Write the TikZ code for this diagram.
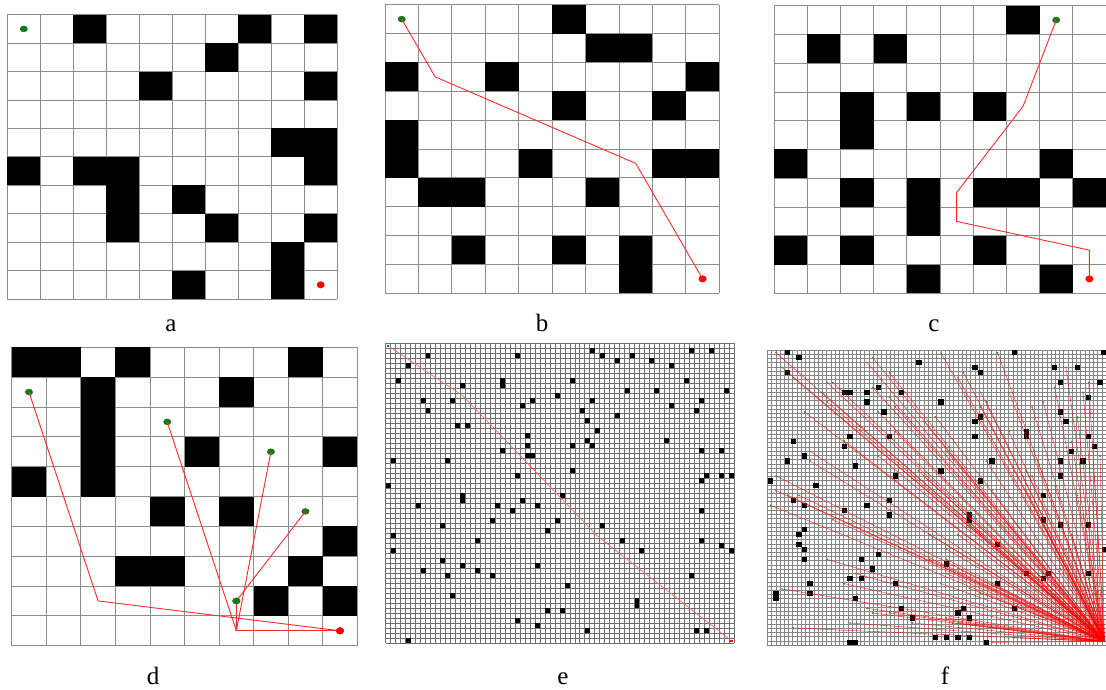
\documentclass[tikz,border=0pt]{standalone}
\usepackage{fontspec}
\setmainfont{Liberation Serif}
\usetikzlibrary{shapes.geometric}
\definecolor{gridgray}{HTML}{8C8C8C}
\definecolor{finegray}{HTML}{6E6E6E}
\definecolor{fgray}{HTML}{858585}
\definecolor{startgreen}{HTML}{127A12}
\definecolor{goalred}{HTML}{FF0000}
\definecolor{pathred}{HTML}{FF2A2A}
\tikzset{
  gridln/.style={draw=gridgray, line width=0.8pt},
  fineln/.style={draw=finegray, line width=0.55pt},
  fln/.style={draw=fgray, line width=0.5pt},
  obst/.style={fill=black},
  pathln/.style={draw=pathred, line width=0.9pt},
  epath/.style={draw=pathred!70, line width=0.7pt},
  fpath/.style={draw=red, line width=0.55pt, draw opacity=0.7},
  startdot/.style={ellipse, fill=startgreen, inner sep=0pt, minimum width=8pt, minimum height=6.5pt},
  goaldot/.style={ellipse, fill=goalred, inner sep=0pt, minimum width=8pt, minimum height=7pt},
  tinystart/.style={rectangle, fill=startgreen, inner sep=0pt, minimum size=2.2pt},
  tinygoal/.style={rectangle, fill=goalred, inner sep=0pt, minimum size=2.2pt},
  fdot/.style={circle, fill=startgreen!80!lime, inner sep=0pt, minimum size=2pt},
  lbl/.style={anchor=base, inner sep=0pt, font=\fontsize{25}{25}\selectfont}
}
\begin{document}
\begin{tikzpicture}[x=1pt, y=-1pt]
\useasboundingbox[fill=white] (0,0) rectangle (1106,690);

% ---------------- panel a ----------------
\begin{scope}[shift={(7.3,14.7)}, x=32.99pt, y=-28.43pt]
  \foreach \i in {0,...,10} {
    \draw[gridln] (\i,0) -- (\i,10);
    \draw[gridln] (0,\i) -- (10,\i);
  }
  \foreach \c/\r in {2/0,7/0,9/0,6/1,4/2,9/2,8/4,9/4,0/5,2/5,3/5,9/5,3/6,5/6,3/7,6/7,9/7,8/8,5/9,8/9}
    \fill[obst] (\c,\r) rectangle ++(1,1);
  \node[startdot] (as) at (0.5,0.5) {};
  \node[goaldot] (ag) at (9.5,9.5) {};
\end{scope}
\node[lbl] (la) at (171,331) {a};

% ---------------- panel b ----------------
\begin{scope}[shift={(385,4.7)}, x=33.43pt, y=-28.86pt]
  \foreach \i in {0,...,10} {
    \draw[gridln] (\i,0) -- (\i,10);
    \draw[gridln] (0,\i) -- (10,\i);
  }
  \foreach \c/\r in {5/0,6/1,7/1,0/2,3/2,9/2,5/3,8/3,0/4,0/5,4/5,8/5,9/5,1/6,2/6,6/6,2/8,5/8,7/8,7/9}
    \fill[obst] (\c,\r) rectangle ++(1,1);
  \coordinate (b1) at (1.5,2.5);
  \coordinate (b2) at (7.5,5.5);
  \node[startdot] (bs) at (0.5,0.5) {};
  \node[goaldot] (bg) at (9.5,9.5) {};
  \draw[pathln] (bs.center) -- (b1) -- (b2) -- (bg.center);
\end{scope}
\node[lbl] (lb) at (542,331) {b};

% ---------------- panel c ----------------
\begin{scope}[shift={(774,5.7)}, x=33.2pt, y=-28.76pt]
  \foreach \i in {0,...,10} {
    \draw[gridln] (\i,0) -- (\i,10);
    \draw[gridln] (0,\i) -- (10,\i);
  }
  \foreach \c/\r in {7/0,1/1,3/1,2/3,4/3,6/3,2/4,0/5,8/5,2/6,4/6,6/6,7/6,9/6,4/7,0/8,2/8,6/8,4/9,8/9}
    \fill[obst] (\c,\r) rectangle ++(1,1);
  \coordinate (c1) at (7.5,3.5);
  \coordinate (c2) at (5.5,6.5);
  \coordinate (c3) at (5.5,7.5);
  \coordinate (c4) at (9.5,8.5);
  \node[startdot] (cs) at (8.5,0.5) {};
  \node[goaldot] (cg) at (9.5,9.5) {};
  \draw[pathln] (cs.center) -- (c1) -- (c2) -- (c3) -- (c4) -- (cg.center);
\end{scope}
\node[lbl] (lc) at (934,331) {c};

% ---------------- panel d ----------------
\begin{scope}[shift={(11.7,347.3)}, x=34.56pt, y=-29.84pt]
  \foreach \i in {0,...,10} {
    \draw[gridln] (\i,0) -- (\i,10);
    \draw[gridln] (0,\i) -- (10,\i);
  }
  \foreach \c/\r in {0/0,1/0,3/0,8/0,2/1,6/1,2/2,2/3,5/3,9/3,0/4,2/4,4/5,6/5,9/6,3/7,4/7,8/7,7/8,9/8}
    \fill[obst] (\c,\r) rectangle ++(1,1);
  \coordinate (dj) at (6.5,9.5);
  \coordinate (dk) at (2.5,8.5);
  \node[startdot] (d1) at (0.5,1.5) {};
  \node[startdot] (d2) at (4.5,2.5) {};
  \node[startdot] (d3) at (7.5,3.5) {};
  \node[startdot] (d4) at (8.5,5.5) {};
  \node[startdot] (d5) at (6.5,8.5) {};
  \node[goaldot] (dg) at (9.5,9.5) {};
  \draw[pathln] (d1.center) -- (dk) -- (dg.center);
  \draw[pathln] (d2.center) -- (dj);
  \draw[pathln] (d3.center) -- (dj);
  \draw[pathln] (d4.center) -- (d5.center) -- (dj);
  \draw[pathln] (dj) -- (dg.center);
  \node[startdot] at (d5) {};
  \node[goaldot] at (dg) {};
\end{scope}
\node[lbl] (ld) at (153,684) {d};

% ---------------- panel e ----------------
\begin{scope}[shift={(385.7,343.3)}, x=4.976pt, y=-5pt]
  \fill[white] (0,0) rectangle (70,60);
  \foreach \i in {0,...,70} \draw[fineln] (\i,0) -- (\i,60);
  \foreach \i in {0,...,60} \draw[fineln] (0,\i) -- (70,\i);
  \foreach \c/\r in {8/2,26/2,41/1,61/1,65/1,43/2,49/2,46/3,53/3,4/4,57/4,2/7,15/8,23/7,23/8,37/7,60/7,48/9,54/9,68/9,34/10,7/11,13/11,29/11,41/11,63/11,27/12,57/12,8/13,39/13,62/13,46/14,40/15,14/16,16/16,42/17,28/18,40/19,41/20,28/20,37/20,56/19,23/21,28/22,29/22,63/21,67/21,1/23,12/23,37/25,26/26,64/26,67/26,69/26,63/27,0/28,35/30,15/30,15/31,27/31,6/32,22/32,30/32,25/33,63/33,21/35,34/35,11/36,43/36,32/37,1/38,18/39,47/39,63/39,67/40,1/41,51/41,69/41,11/43,15/44,30/44,7/45,18/45,12/46,21/46,61/46,36/48,13/50,50/51,50/52,32/53,35/53,26/55,30/56,40/57,62/57,64/57,4/59}
    \fill[obst] (\c,\r) rectangle ++(1,1);
  \coordinate (e1) at (15.5,10.5);
  \coordinate (e2) at (42.5,38.5);
  \node[tinystart] (es) at (0.5,0.5) {};
  \node[tinygoal] (eg) at (69.5,59.5) {};
  \draw[epath] (es) -- (e1) -- (e2) -- (eg);
\end{scope}
\node[lbl] (le) at (563,684) {e};

% ---------------- panel f ----------------
\begin{scope}[shift={(767.3,350)}, x=4.234pt, y=-4.214pt]
  \fill[white] (0,0) rectangle (80,70);
  \foreach \i in {0,...,80} \draw[fln] (\i,0) -- (\i,70);
  \foreach \i in {0,...,70} \draw[fln] (0,\i) -- (80,\i);
\end{scope}
\foreach \X/\Y in {83/53,117/68,83/113,477/83,645/98,662/113,764/53,884/98,952/98,1030/53,901/143,1020/143,986/187,253/172,270/172,321/172,355/157,424/172,321/201,543/201,372/231,662/246,645/260,901/231,918/260,270/304,389/304,645/304,799/290,799/304,986/304,1003/334,253/334,100/320,134/363,83/378,696/378,935/349,901/378,969/378,287/393,406/423,543/408,662/438,32/438,168/452,901/423,850/481,389/496,100/496,134/511,253/526,321/511,389/540,628/540,628/555,850/555,901/570,986/570,134/584,117/599,117/628,134/643,134/673,305/673,355/658,338/702,560/687,713/628,1035/643,799/716,866/716,850/731,986/716,270/731,305/731,406/746,713/746,150/746,150/776,48/776,48/790,287/790,424/820,458/849,594/834,611/820,628/849,764/820,526/908,560/908,594/908,628/908,679/922,270/922,287/922} {
  \pgfmathsetmacro\px{760+\X/3}
  \pgfmathsetmacro\py{335+\Y/3}
  \fill[obst] ({\px-2.8},{\py-2.6}) rectangle ({\px+2.8},{\py+2.6});
}
\coordinate (fg) at (1104.5,641.5);
\foreach \X/\Y [count=\k] in {48/53,66/97,100/128,134/231,150/349,150/378,48/423,48/467,83/481,117/481,32/511,218/554,202/673,66/762,100/879,186/172,202/143,219/143,202/201,321/83,338/68,389/114,338/157,389/187,406/216,355/231,406/290,253/318,355/363,287/716,253/746,321/820,338/834,389/834,270/864,458/864,475/408,492/423,509/599,509/673,543/54,611/114,594/128,526/245,492/260,560/349,594/599,560/643,560/673,560/716,543/746,560/849,577/864,594/864,594/701,628/760,662/774,696/746,696/467,628/570,662/172,679/201,662/216,713/54,747/172,747/290,679/378,696/922,764/908,781/908,816/216,850/201,833/378,799/408,816/423,799/467,833/540,850/565,884/157,918/98,884/452,918/643,901/701,884/908,935/320,952/246,952/481,969/172,986/143,969/540,935/599,1003/423,1020/363,986/732,1003/776,1003/820,799/760,833/716} {
  \node[fdot] (f\k) at ({760+\X/3},{335+\Y/3}) {};
  \draw[fpath] (f\k) -- (fg);
}
\node[lbl] (lf) at (945,684) {f};
\end{tikzpicture}
\end{document}
